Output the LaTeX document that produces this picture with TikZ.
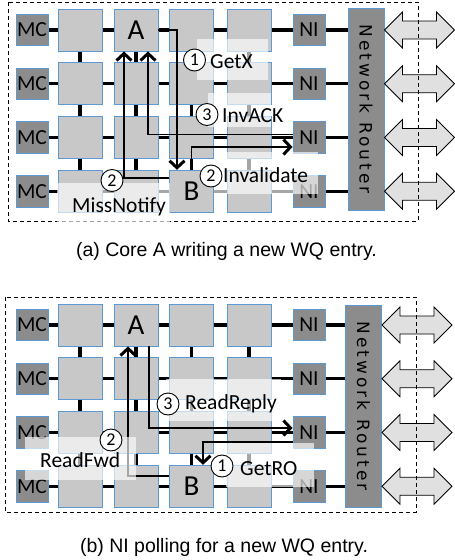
\documentclass[tikz,border=0pt]{standalone}
\usepackage{fontspec}
\setmainfont{Carlito}
\newfontfamily\capfont{Liberation Sans}
\newfontfamily\rtfont[LetterSpace=18]{DejaVu Sans}
\usetikzlibrary{arrows.meta}
\pgfdeclarelayer{background}
\pgfsetlayers{background,main}
\definecolor{coreg}{RGB}{200,200,200}
\definecolor{edgeb}{RGB}{91,155,213}
\definecolor{darkg}{RGB}{140,140,140}
\definecolor{arrg}{RGB}{224,224,224}
\tikzset{
  core/.style={draw=edgeb, fill=coreg, line width=0.9pt, minimum width=44pt, minimum height=42pt, inner sep=0pt},
  mcbox/.style={draw=edgeb, fill=darkg, line width=0.9pt, minimum width=32pt, minimum height=31.5pt, inner sep=0pt, font=\fontsize{21.5}{21.5}\selectfont},
  router/.style={draw=edgeb, fill=darkg, line width=0.9pt, minimum width=36pt, inner sep=0pt},
  rtext/.style={rotate=-90, inner sep=0pt, font=\rtfont\fontsize{17}{17}\selectfont},
  bigl/.style={inner sep=0pt, font=\fontsize{29}{29}\selectfont},
  link/.style={line width=3.3pt},
  msg/.style={line width=1.9pt, -{Straight Barb[length=7pt,width=15pt,line width=3pt]}},
  fade/.style={fill=white, fill opacity=0.65, draw=none},
  num/.style={circle, draw, fill=white, line width=0.9pt, minimum size=22pt, inner sep=0pt, font=\fontsize{18}{18}\selectfont},
  lbl/.style={inner sep=0pt, anchor=base west, font=\fontsize{21.5}{21.5}\selectfont},
  frame/.style={line width=0.9pt, dash pattern=on 4pt off 3pt},
  dblarr/.style={draw=black, fill=arrg, line width=0.8pt},
  capt/.style={inner sep=0pt, anchor=base, font=\capfont\fontsize{19.5}{19.5}\selectfont}
}
% #1 prefix, #2 y offset, #3 router x, #4 router y
\newcommand\meshpanel[4]{%
  \foreach \ri in {1,...,4}{%
    \pgfmathsetmacro\yy{#2+30+53.75*(\ri-1)}
    \node[mcbox] (#1mc\ri) at (32,\yy) {MC};
    \foreach \ci/\xx in {1/80,2/136,3/191.5,4/249}{%
      \node[core] (#1c\ri\ci) at (\xx,\yy) {};
    }
    \node[mcbox] (#1ni\ri) at (309,\yy) {NI};
  }
  \node[router, minimum height=202pt] (#1rt) at (#3,#4) {};
  \node[rtext] (#1rtx) at (#1rt) {Network Router};
  \begin{pgfonlayer}{background}
    \foreach \ri in {1,...,4}{%
      \draw[link] (#1mc\ri) -- (#1c\ri1) -- (#1c\ri2) -- (#1c\ri3) -- (#1c\ri4) -- (#1ni\ri) -- (#1rt.west |- #1ni\ri);
    }
    \foreach \ri in {1,2,3}{%
      \pgfmathtruncatemacro\rj{\ri+1}
      \foreach \ci in {1,...,4}{\draw[link] (#1c\ri\ci) -- (#1c\rj\ci);}
    }
  \end{pgfonlayer}
  \foreach \ri in {1,...,4}{%
    \draw[dblarr] (#1rt.east |- #1ni\ri) -- ++(18,-18) -- ++(0,9) -- ++(34,0) -- ++(0,-9) -- ++(18,18)
      -- ++(-18,18) -- ++(0,-9) -- ++(-34,0) -- ++(0,9) -- cycle;
  }
}
\begin{document}
\begin{tikzpicture}[x=1pt,y=-1pt]
\useasboundingbox (0,0) rectangle (455,560);
\meshpanel{a}{0}{366}{109}
\meshpanel{b}{295}{363.5}{406}
\node[bigl] (lA1) at (ac12) {A};
\node[bigl] (lB1) at (ac43) {B};
\node[bigl] (lA2) at (bc12) {A};
\node[bigl] (lB2) at (bc43) {B};
% frames
\draw[frame] (8,2) rectangle (418,221);
\draw[frame] (5,297) rectangle (416,512);
% panel b message under its label background
\draw[msg] ([yshift=10.5pt]bc43.west) -| ([xshift=-8pt]bc12.south);
% translucent label backgrounds
\fill[fade] (197,39) rectangle (268,80);
\fill[fade] (208,93) rectangle (271,127);
\fill[fade] (214,152) rectangle (318,194);
\fill[fade] (57,183) rectangle (170,224);
\fill[fade] (166,379) rectangle (281,421);
\fill[fade] (25,437) rectangle (136,480);
\fill[fade] (226,443) rectangle (314,487);
% panel a messages
\draw[msg] (ac12.east) -| ([xshift=-14.5pt]ac43.north);
\draw[msg] ([yshift=13pt]ac43.west) -| ([xshift=-12pt]ac12.south);
\draw[msg] ([yshift=3pt]ani3.west) -| ([xshift=12pt]ac12.south);
\draw[msg] (ac43.north) |- ([yshift=-9.5pt]ani3.west);
% panel b messages
\draw[msg] ([yshift=-9.5pt]bni3.west) -| ([xshift=11.5pt]bc43.north);
\draw[msg] ([xshift=13pt]bc12.south) |- ([yshift=4.5pt]bni3.west);
% labels panel a
\node[num] (na1) at (194.5,60) {1};
\node[lbl] (ta1) at (210,68) {GetX};
\node[num] (na3) at (207,114.5) {3};
\node[lbl] (ta3) at (222,122) {InvACK};
\node[num] (na2) at (211,176) {2};
\node[lbl] (ta2) at (223,182.5) {Invalidate};
\node[num] (na2b) at (112,180.5) {2};
\node[lbl] (ta2b) at (72,212) {MissNotify};
% labels panel b
\node[num] (nb3) at (168,404) {3};
\node[lbl] (tb3) at (185,409.5) {ReadReply};
\node[num] (nb2) at (111,440) {2};
\node[lbl] (tb2) at (40,467) {ReadFwd};
\node[num] (nb1) at (222,466) {1};
\node[lbl] (tb1) at (240,475) {GetRO};
% captions
\node[capt] (capa) at (226.5,256.5) {(a) Core A writing a new WQ entry.};
\node[capt] (capb) at (224,552) {(b) NI polling for a new WQ entry.};
\end{tikzpicture}
\end{document}
